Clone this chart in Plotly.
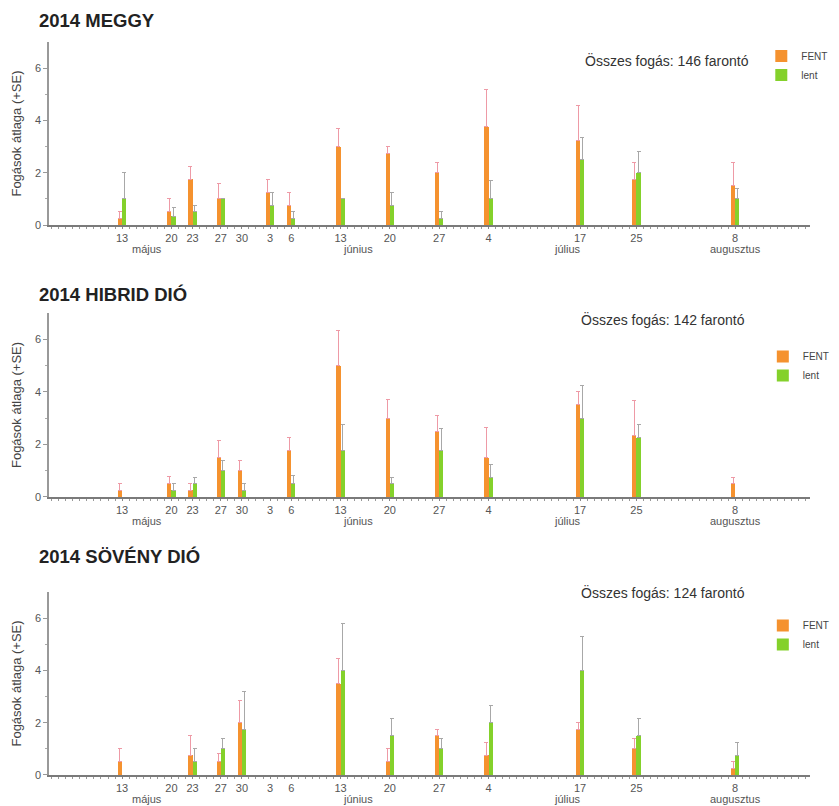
import plotly.graph_objects as go

# ---------------- data ----------------
dates = ["2014-05-13", "2014-05-20", "2014-05-23", "2014-05-27", "2014-05-30",
         "2014-06-03", "2014-06-06", "2014-06-13", "2014-06-20", "2014-06-27",
         "2014-07-04", "2014-07-17", "2014-07-25", "2014-08-08"]
day_labels = ["13", "20", "23", "27", "30", "3", "6", "13", "20", "27", "4", "17", "25", "8"]
month_names = ["május", "június", "július", "augusztus"]
month_pos = ["2014-05-16 12:00", "2014-06-15 12:00", "2014-07-15 06:00", "2014-08-08"]

panel_titles = ["2014 MEGGY", "2014 HIBRID DIÓ", "2014 SÖVÉNY DIÓ"]
totals = ["Összes fogás: 146 farontó", "Összes fogás: 142 farontó", "Összes fogás: 124 farontó"]
series_names = ["FENT", "lent"]

meggy_fent = [0.25, 0.5, 1.75, 1.0, None, 1.25, 0.75, 3.0, 2.75, 2.0, 3.75, 3.25, 1.75, 1.5]
meggy_fent_se = [0.25, 0.5, 0.5, 0.6, None, 0.5, 0.5, 0.7, 0.25, 0.4, 1.45, 1.33, 0.65, 0.9]
meggy_lent = [1.0, 0.33, 0.5, 1.0, None, 0.75, 0.25, 1.0, 0.75, 0.25, 1.0, 2.5, 2.0, 1.0]
meggy_lent_se = [1.0, 0.33, 0.25, 0.0, None, 0.5, 0.25, 0.0, 0.5, 0.25, 0.7, 0.85, 0.8, 0.4]

hibrid_fent = [0.25, 0.5, 0.25, 1.5, 1.0, None, 1.75, 5.0, 3.0, 2.5, 1.5, 3.5, 2.33, 0.5]
hibrid_fent_se = [0.27, 0.27, 0.27, 0.63, 0.4, None, 0.5, 1.33, 0.7, 0.6, 1.15, 0.5, 1.35, 0.25]
hibrid_lent = [None, 0.25, 0.5, 1.0, 0.25, None, 0.5, 1.75, 0.5, 1.75, 0.75, 3.0, 2.25, None]
hibrid_lent_se = [None, 0.25, 0.25, 0.4, 0.25, None, 0.3, 1.0, 0.25, 0.85, 0.5, 1.25, 0.5, None]

soveny_fent = [0.5, None, 0.75, 0.5, 2.0, None, None, 3.5, 0.5, 1.5, 0.75, 1.75, 1.0, 0.25]
soveny_fent_se = [0.5, None, 0.75, 0.33, 0.85, None, None, 0.95, 0.5, 0.25, 0.5, 0.25, 0.4, 0.25]
soveny_lent = [None, None, 0.5, 1.0, 1.75, None, None, 4.0, 1.5, 1.0, 2.0, 4.0, 1.5, 0.75]
soveny_lent_se = [None, None, 0.5, 0.4, 1.45, None, None, 1.8, 0.65, 0.4, 0.67, 1.3, 0.65, 0.5]

panels = [
    (meggy_fent, meggy_fent_se, meggy_lent, meggy_lent_se),
    (hibrid_fent, hibrid_fent_se, hibrid_lent, hibrid_lent_se),
    (soveny_fent, soveny_fent_se, soveny_lent, soveny_lent_se),
]

# ---------------- style ----------------
FONT = "Liberation Sans, Arial, sans-serif"
ORANGE = "#F5922F"
GREEN = "#84D12B"
ERR_FENT = "#EE9AA6"
ERR_LENT = "#A8A8A8"
DAY = 86400000
BAR_W = 0.6 * DAY

# the page body has an 8px margin, so the figure is offset by 8px
W, H = 831, 798
ML, MR, MT, MB = 41, 29, 34, 31
domains = [[0.7503, 1.0], [0.3793, 0.6303], [0.0, 0.2497]]
legend_pos = [(0.936, 0.968), (0.938, 0.558), (0.938, 0.191)]
total_pos = [(0.812, 0.90), (0.807, 0.962), (0.807, 0.995)]
title_shift = [22, 18, 35]

fig = go.Figure()
annotations = []
for i, (f, fse, l, lse) in enumerate(panels):
    ax = "" if i == 0 else str(i + 1)
    leg = "legend" if i == 0 else "legend" + str(i + 1)
    fig.add_trace(go.Bar(
        x=dates, y=f, name=series_names[0], marker_color=ORANGE, marker_line_width=0,
        width=BAR_W, offset=-BAR_W,
        error_y=dict(type="data", array=fse, symmetric=False, arrayminus=[0] * len(fse),
                     color=ERR_FENT, thickness=1, width=2),
        xaxis="x" + ax, yaxis="y" + ax, legend=leg,
    ))
    fig.add_trace(go.Bar(
        x=dates, y=l, name=series_names[1], marker_color=GREEN, marker_line_width=0,
        width=BAR_W, offset=0,
        error_y=dict(type="data", array=lse, symmetric=False, arrayminus=[0] * len(lse),
                     color=ERR_LENT, thickness=1, width=2),
        xaxis="x" + ax, yaxis="y" + ax, legend=leg,
    ))

    xa = dict(
        domain=[0, 1], anchor="y" + ax, type="date",
        range=["2014-05-02 15:00", "2014-08-18 15:00"],
        tickmode="array", tickvals=dates, ticktext=day_labels,
        ticks="outside", ticklen=2, tickcolor="#888",
        minor=dict(dtick=DAY, ticks="outside", ticklen=2, tickcolor="#999", tick0="2014-05-01"),
        showline=True, linecolor="#7a7a7a", linewidth=2,
        showgrid=False, zeroline=False,
        tickfont=dict(family=FONT, size=11, color="#555"),
        fixedrange=True,
    )
    ya = dict(
        domain=domains[i], anchor="x" + ax, range=[0, 7],
        tickvals=[0, 2, 4, 6], ticks="outside", ticklen=4, tickcolor="#999",
        minor=dict(tickvals=[1, 3, 5], ticks="outside", ticklen=2, tickcolor="#aaa"),
        showline=True, linecolor="#999", linewidth=1.5,
        showgrid=False, zeroline=False,
        tickfont=dict(family=FONT, size=11, color="#555"),
        title=dict(text="Fogások átlaga (+SE)", font=dict(family=FONT, size=13, color="#444"),
                   standoff=10),
    )
    fig.layout["xaxis" + ax] = xa
    fig.layout["yaxis" + ax] = ya

    lx, ly = legend_pos[i]
    fig.layout[leg] = dict(
        x=lx, y=ly, xanchor="left", yanchor="middle",
        font=dict(family=FONT, size=10, color="#444"),
        bgcolor="rgba(0,0,0,0)", tracegroupgap=0, itemwidth=30,
    )

    # panel title
    annotations.append(dict(
        text="<b>" + panel_titles[i] + "</b>", xref="paper", yref="y" + ax + " domain",
        x=-0.0158, y=1, yshift=title_shift[i], xanchor="left", yanchor="middle",
        showarrow=False, font=dict(family=FONT, size=18.5, color="#222"),
    ))
    # total catch annotation
    tx, ty = total_pos[i]
    annotations.append(dict(
        text=totals[i], xref="paper", yref="y" + ax + " domain",
        x=tx, y=ty, xanchor="center", yanchor="middle",
        showarrow=False, font=dict(family=FONT, size=14, color="#333"),
    ))
    # month labels
    for mname, mpos in zip(month_names, month_pos):
        annotations.append(dict(
            text=mname, xref="x" + ax, yref="y" + ax + " domain",
            x=mpos, y=0, yshift=-24, xanchor="center", yanchor="middle",
            showarrow=False, font=dict(family=FONT, size=11, color="#555"),
        ))

fig.update_layout(
    width=W, height=H,
    margin=dict(l=ML, r=MR, t=MT, b=MB, autoexpand=False),
    paper_bgcolor="white", plot_bgcolor="white",
    barmode="overlay", bargap=0,
    showlegend=True,
    annotations=annotations,
    font=dict(family=FONT),
)

fig.write_html("out.html")
